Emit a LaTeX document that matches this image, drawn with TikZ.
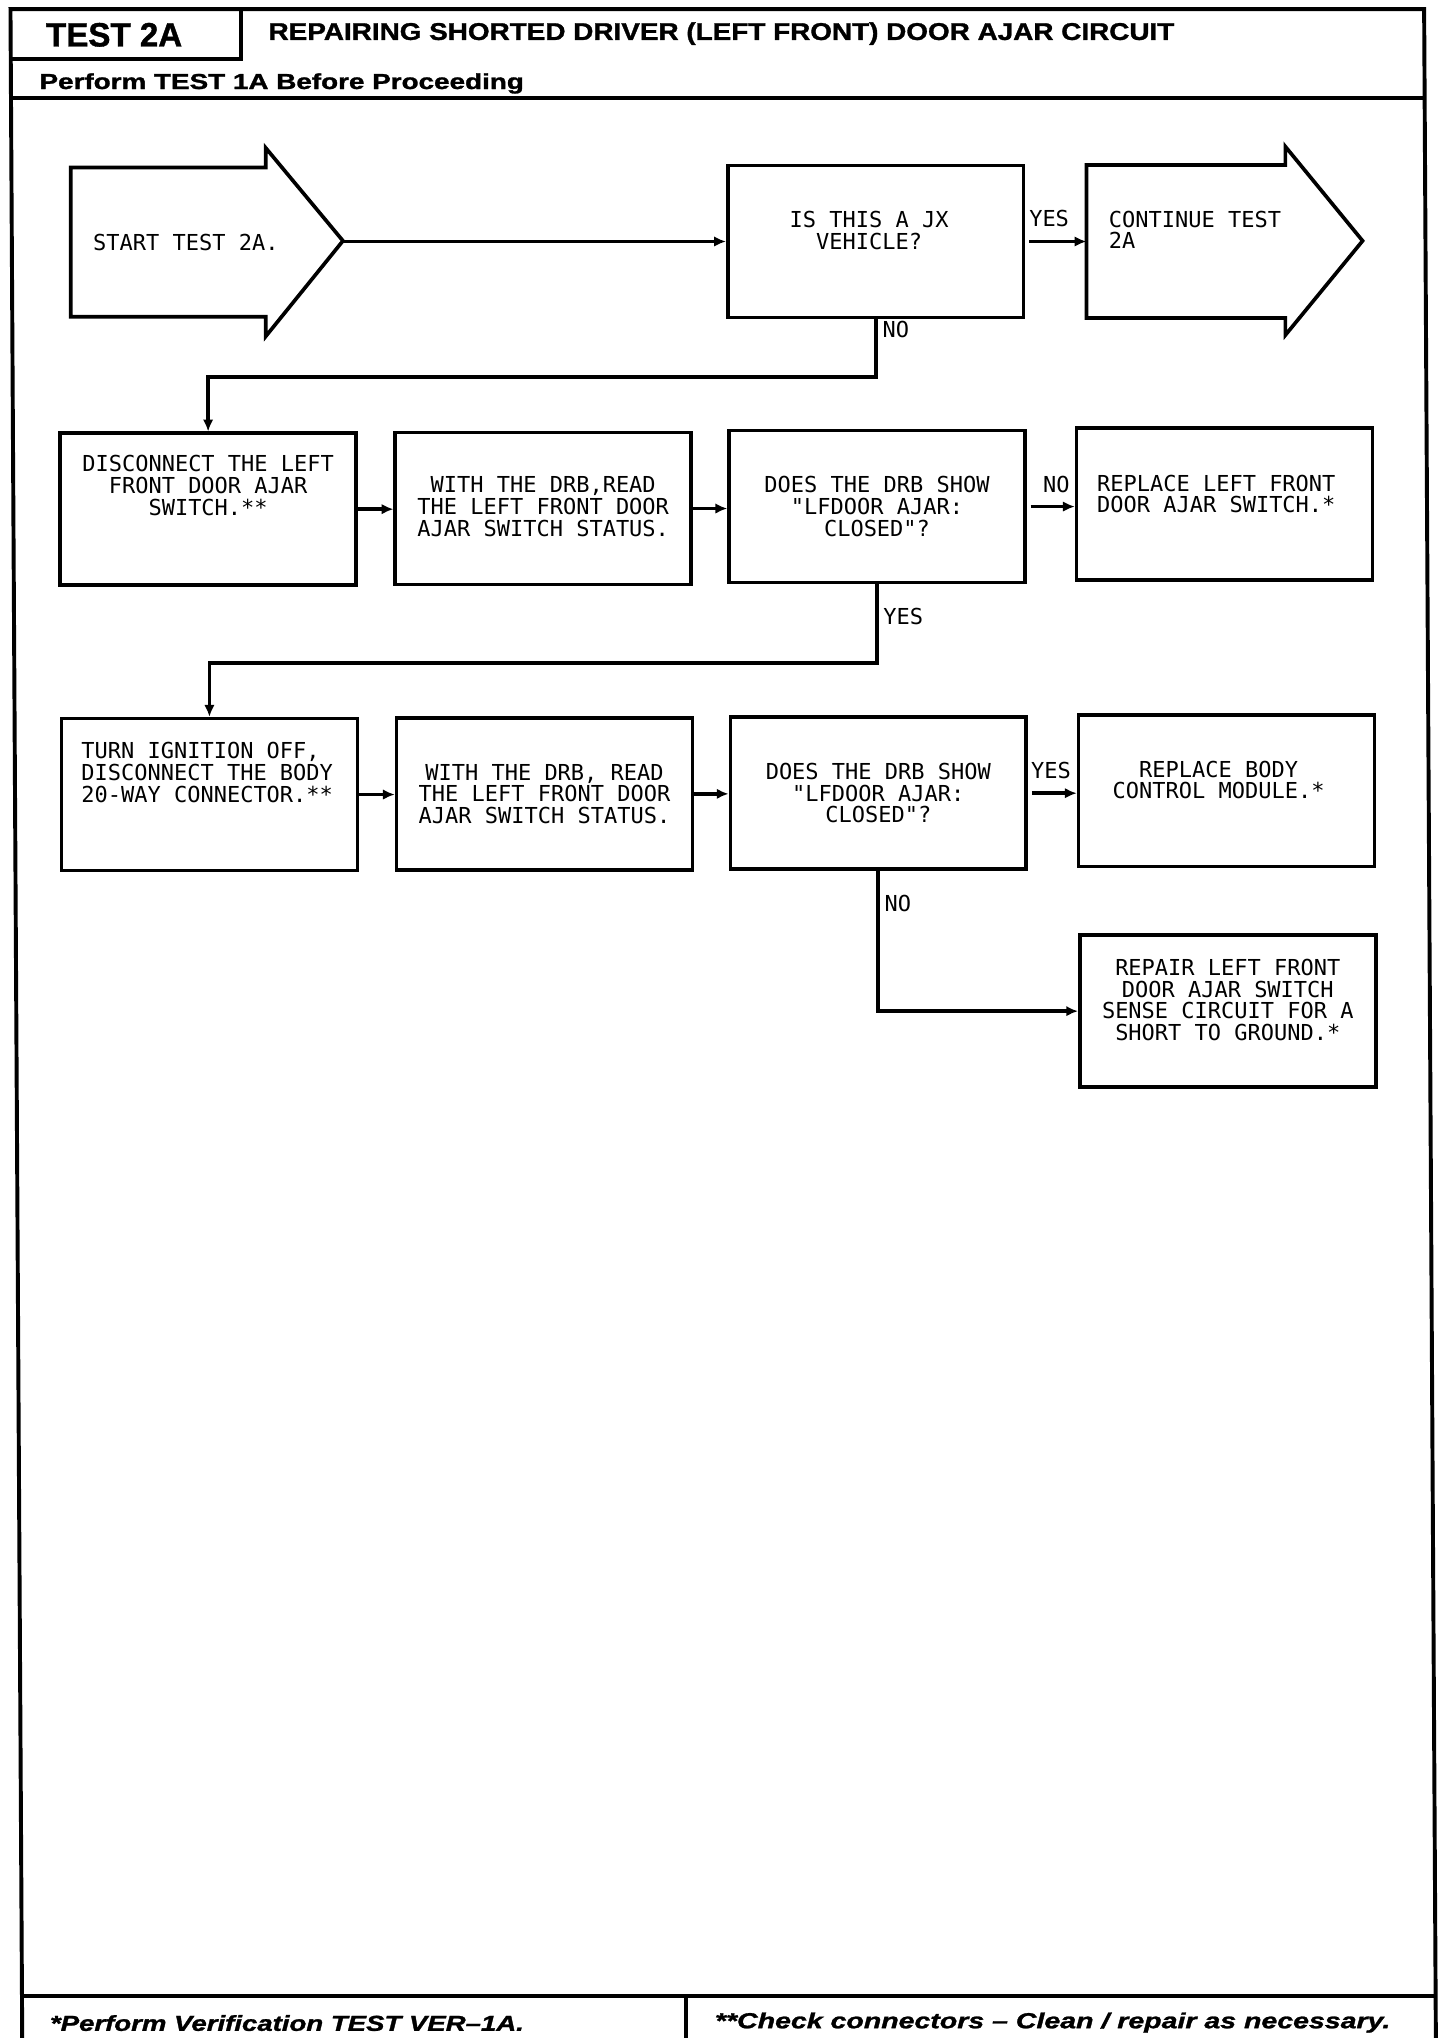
\documentclass[tikz,border=0pt]{standalone}
\usepackage{fontspec}
\setmainfont{Liberation Sans}
\newfontfamily\monof{DejaVu Sans Mono}
\newfontfamily\hfont[FakeBold=1.2]{Liberation Sans Bold}
\newfontfamily\hfontit[FakeBold=1.2]{Liberation Sans Bold Italic}
\usetikzlibrary{arrows.meta}
\begin{document}
\begin{tikzpicture}[x=1pt,y=-1pt,
  box/.style={draw, line width=2.8pt, minimum width=226pt, minimum height=116pt, inner sep=0pt},
  btxt/.style={font=\monof\fontsize{16.8}{16.6}\selectfont, align=center, inner sep=0pt},
  ltxt/.style={font=\monof\fontsize{16.8}{16.6}\selectfont, align=left, inner sep=0pt, anchor=west},
  lbl/.style={font=\monof\fontsize{16.8}{16.6}\selectfont, inner sep=0pt},
  conn/.style={line width=2.8pt, -{Latex[length=9pt,width=8pt]}},
  frame/.style={line width=3pt},
  hdr/.style={inner sep=0pt, anchor=base west}]
\useasboundingbox (0,0) rectangle (1100,1557);
\fill[white] (0,0) rectangle (1100,1557);

% outer frame and header/footer rules
\draw[frame, line join=miter] (8,7) -- (1088,7) -- (1097,1562) -- (17,1562) -- cycle;
\draw[frame] (184,7) -- (184,45) -- (8,45);
\draw[frame] (8.4,75) -- (1088.4,75);
\draw[frame] (16.8,1525) -- (1096.8,1525);
\draw[frame] (524,1525) -- (524,1562);

\node[hdr] (t2a) at (35,35.5) {\resizebox{104pt}{18pt}{\hfont TEST 2A}};
\node[hdr] (title) at (205,30.5) {\resizebox{692pt}{13.4pt}{\hfont REPAIRING SHORTED DRIVER (LEFT FRONT) DOOR AJAR CIRCUIT}};
\node[hdr] (perf) at (30,68) {\resizebox{370pt}{12pt}{\hfont Perform TEST 1A Before Proceeding}};
\node[hdr] (fn1) at (38,1551.5) {\resizebox{362pt}{12pt}{\hfontit *Perform Verification TEST VER–1A.}};
\node[hdr] (fn2) at (546,1549.5) {\resizebox{516pt}{12pt}{\hfontit **Check connectors – Clean / repair as necessary.}};

% start arrow
\draw[line width=2.8pt, line join=miter] (54,128) -- (203,128) -- (203,113) -- (262,184) -- (203,257) -- (203,242) -- (54,242) -- cycle;
\coordinate (starttip) at (262,184.5);
\node[ltxt] (starttxt) at (71,185) {START TEST 2A.};

% continue arrow
\draw[line width=2.8pt, line join=miter] (830,126) -- (982,126) -- (982,112) -- (1041,184) -- (982,256) -- (982,243) -- (830,243) -- cycle;
\coordinate (conttail) at (830,184.5);
\node[ltxt] (conttxt) at (847,175.5) {CONTINUE TEST\\2A};

% boxes
\node[box] (b1) at (669,184.5) {};
\node[btxt] (b1t) at (664,176) {IS THIS A JX\\VEHICLE?};
\node[box] (b2) at (159,389) {};
\node[btxt] (b2t) at (159,371) {DISCONNECT THE LEFT\\FRONT DOOR AJAR\\SWITCH.**};
\node[box] (b3) at (415,388.5) {};
\node[btxt] (b3t) at (415,387) {WITH THE DRB,READ\\THE LEFT FRONT DOOR\\AJAR SWITCH STATUS.};
\node[box] (b4) at (670,387) {};
\node[btxt] (b4t) at (670,387) {DOES THE DRB SHOW\\"LFDOOR AJAR:\\CLOSED"?};
\node[box] (b5) at (935.5,385) {};
\node[ltxt] (b5t) at (838,377.5) {REPLACE LEFT FRONT\\DOOR AJAR SWITCH.*};
\node[box] (b6) at (160,607) {};
\node[ltxt] (b6t) at (62,590) {TURN IGNITION OFF,\\DISCONNECT THE BODY\\20-WAY CONNECTOR.**};
\node[box] (b7) at (416,606.5) {};
\node[btxt] (b7t) at (416,606.5) {WITH THE DRB, READ\\THE LEFT FRONT DOOR\\AJAR SWITCH STATUS.};
\node[box] (b8) at (671,606) {};
\node[btxt] (b8t) at (671,606) {DOES THE DRB SHOW\\"LFDOOR AJAR:\\CLOSED"?};
\node[box] (b9) at (937,604) {};
\node[btxt] (b9t) at (931,596) {REPLACE BODY\\CONTROL MODULE.*};
\node[box] (b10) at (938,772.5) {};
\node[btxt] (b10t) at (938,764) {REPAIR LEFT FRONT\\DOOR AJAR SWITCH\\SENSE CIRCUIT FOR A\\SHORT TO GROUND.*};

% connectors
\draw[conn] (starttip) -- (starttip -| b1.west);
\draw[conn, shorten <=3pt] (b1.east) -- (b1.east -| conttail);
\draw[conn] (b1.south) -- ++(0,44) -| (b2.north);
\draw[conn] (b2.east) -- (b2.east -| b3.west);
\draw[conn] (b3.east) -- (b3.east -| b4.west);
\draw[conn, shorten <=3pt] (b4.east) -- (b4.east -| b5.west);
\draw[conn] (b4.south) -- ++(0,60) -| (b6.north);
\draw[conn] (b6.east) -- (b6.east -| b7.west);
\draw[conn] (b7.east) -- (b7.east -| b8.west);
\draw[conn, shorten <=3pt] (b8.east) -- (b8.east -| b9.west);
\draw[conn] (b8.south) |- (b10.west);

% labels
\node[lbl] (l1) at (801.5,167) {YES};
\node[lbl] (l2) at (684.5,252) {NO};
\node[lbl] (l3) at (807,370) {NO};
\node[lbl] (l4) at (690,471) {YES};
\node[lbl] (l5) at (803,589) {YES};
\node[lbl] (l6) at (686,690) {NO};
\end{tikzpicture}
\end{document}
